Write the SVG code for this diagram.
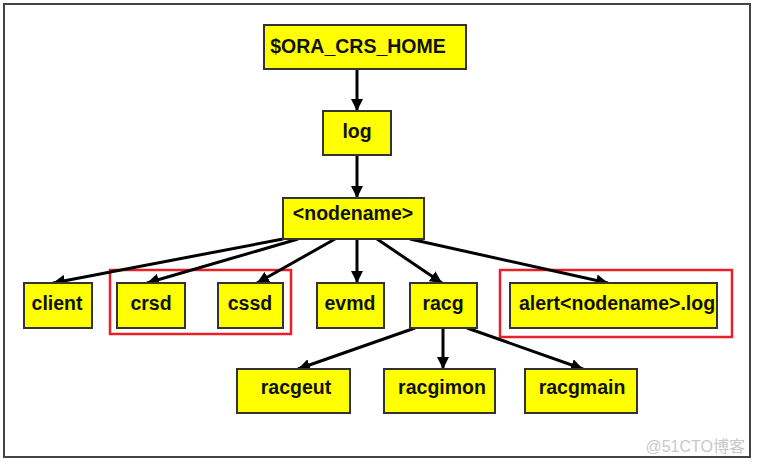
<svg xmlns="http://www.w3.org/2000/svg" width="758" height="465" viewBox="0 0 758 465">
<defs>
<marker id="ah" viewBox="0 0 10 10" refX="10" refY="5" markerWidth="4" markerHeight="4" markerUnits="strokeWidth" orient="auto">
<path d="M0,0 L10,5 L0,10 z" fill="#000"/>
</marker>
<style>
.n rect{fill:#ffff00;stroke:#333;stroke-width:2}
.n text{font-family:"Liberation Sans",Arial,sans-serif;font-weight:bold;font-size:19.5px;fill:#111;text-anchor:middle}
.c line{stroke:#000;stroke-width:3;marker-end:url(#ah)}
.hl{fill:none;stroke:#e8202a;stroke-width:2.5}
</style>
</defs>
<rect x="0" y="0" width="758" height="465" fill="#fff"/>
<rect x="4" y="4" width="746" height="453" fill="#fff" stroke="#444" stroke-width="2"/>
<rect class="hl" x="110" y="270" width="181" height="64"/>
<rect class="hl" x="500" y="270" width="232" height="67"/>
<g class="c" id="connectors">
<line x1="357" y1="69" x2="357" y2="111"/>
<line x1="357" y1="155" x2="357" y2="198"/>
<line x1="283" y1="239" x2="53" y2="283"/>
<line x1="298" y1="239" x2="147" y2="283"/>
<line x1="335" y1="239" x2="257" y2="283"/>
<line x1="357" y1="239" x2="357" y2="283"/>
<line x1="377" y1="239" x2="442" y2="283"/>
<line x1="410" y1="239" x2="608" y2="283"/>
<line x1="415" y1="328" x2="298" y2="369"/>
<line x1="443" y1="328" x2="443" y2="369"/>
<line x1="467" y1="328" x2="583" y2="369"/>
</g>
<g class="n" id="ora_crs_home"><rect x="264" y="25" width="202" height="44"/><text x="358" y="53">$ORA_CRS_HOME</text></g>
<g class="n" id="log"><rect x="323" y="111" width="68" height="44"/><text x="357" y="138">log</text></g>
<g class="n" id="nodename"><rect x="283" y="198" width="141" height="41"/><text x="353" y="220">&lt;nodename&gt;</text></g>
<g class="n" id="client"><rect x="24" y="283" width="68" height="45"/><text x="57" y="310">client</text></g>
<g class="n" id="crsd"><rect x="117" y="283" width="68" height="45"/><text x="151" y="310">crsd</text></g>
<g class="n" id="cssd"><rect x="218" y="283" width="65" height="45"/><text x="250" y="310">cssd</text></g>
<g class="n" id="evmd"><rect x="317" y="283" width="67" height="45"/><text x="350" y="310">evmd</text></g>
<g class="n" id="racg"><rect x="410" y="283" width="67" height="45"/><text x="443" y="310">racg</text></g>
<g class="n" id="alert"><rect x="510" y="283" width="207" height="45"/><text x="617" y="310">alert&lt;nodename&gt;.log</text></g>
<g class="n" id="racgeut"><rect x="237" y="369" width="113" height="44"/><text x="296" y="394">racgeut</text></g>
<g class="n" id="racgimon"><rect x="384" y="369" width="111" height="44"/><text x="442" y="394">racgimon</text></g>
<g class="n" id="racgmain"><rect x="525" y="369" width="112" height="44"/><text x="582" y="394">racgmain</text></g>
<text x="745" y="452" text-anchor="end" font-family="'Liberation Sans','Noto Sans CJK SC',sans-serif" font-size="16" fill="#c8c8c8">@51CTO博客</text>
</svg>
